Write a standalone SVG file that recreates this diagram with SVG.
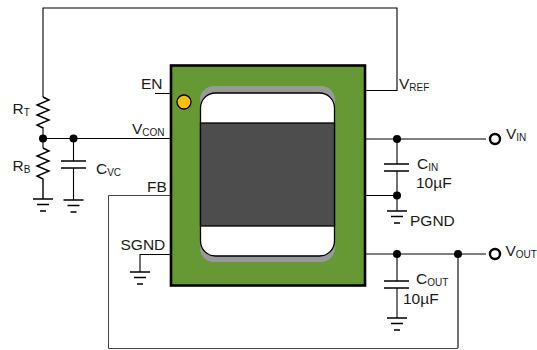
<svg xmlns="http://www.w3.org/2000/svg" width="537" height="350" viewBox="0 0 537 350">
<defs>
<style>
.w{fill:none;stroke:#000;stroke-width:1.100}
.f{fill:none;stroke:#444;stroke-width:1}
.t{stroke:#000;stroke-width:1.400;fill:none}
.l{font-family:"Liberation Sans",Arial,sans-serif;font-size:15.500px;fill:#1a1a1a}
.s{font-size:10px}
.d{fill:#000}
.o{fill:#fff;stroke:#000;stroke-width:2.400}
</style>
<g id="gnd"><path class="t" d="M-10 0H10M-6 5.500H6M-3 12H3"/></g>
</defs>
<rect width="537" height="350" fill="#fff"/>
<g id="connectors">
<path class="w" d="M43 97V8H397V90.500H365"/>
<path class="t" d="M43 97l6 3-12 5 12 5-12 5 12 5-12 5 6 3M43 148l6 3-12 5 12 5-12 5 12 5-12 5 6 3V199"/>
<path class="w" d="M43 127V148M43 138.500H170M73.500 138.500V161M73.500 168V200"/>
<path class="t" d="M61 161H86M61 168H86"/>
<path class="w" d="M155 93.500H170M170 254.500H140V272M458 254V348"/>
<path class="f" d="M170 195.500H108.500V348.500H458"/>
<path class="w" d="M365 139H486M365 195.500H397M397 139V164M397 171V211"/>
<path class="t" d="M384 164H409M384 171H409"/>
<path class="w" d="M365 254H486M397 254V281M397 288V318"/>
<path class="t" d="M384 281H409M384 288H409"/>
<circle class="d" cx="43" cy="138.500" r="4"/>
<circle class="d" cx="73.500" cy="138.500" r="4"/>
<circle class="d" cx="397" cy="139" r="4"/>
<circle class="d" cx="397" cy="195.500" r="4"/>
<circle class="d" cx="397" cy="254" r="4"/>
<circle class="d" cx="458" cy="254" r="4"/>
<use href="#gnd" x="43" y="199"/>
<use href="#gnd" x="73.500" y="200"/>
<use href="#gnd" x="140" y="272"/>
<use href="#gnd" x="397" y="211"/>
<use href="#gnd" x="397" y="318"/>
</g>
<g id="chip">
<rect x="171" y="65.500" width="194" height="220" fill="#669933" stroke="#000" stroke-width="2.600"/>
<rect x="200" y="86" width="135" height="176" rx="14" fill="#999"/>
<rect x="200.500" y="93" width="134" height="163" rx="15" fill="#fff" stroke="#000" stroke-width="1.300"/>
<rect x="200.500" y="123" width="134" height="103" fill="#4d4d4d" stroke="#000" stroke-width="1.300"/>
<circle cx="184" cy="102" r="7" fill="#ffc000" stroke="#000" stroke-width="1.300"/>
</g>
<g id="labels">
<text class="l" x="141" y="89">EN</text>
<text class="l" x="132" y="134">V<tspan class="s" dy="2">CON</tspan></text>
<text class="l" x="147" y="192">FB</text>
<text class="l" x="120.500" y="250">SGND</text>
<text class="l" x="12.500" y="114">R<tspan class="s" dy="2">T</tspan></text>
<text class="l" x="12.500" y="171">R<tspan class="s" dy="2">B</tspan></text>
<text class="l" x="96" y="174">C<tspan class="s" dy="2">VC</tspan></text>
<text class="l" x="399" y="89">V<tspan class="s" dy="2">REF</tspan></text>
<text class="l" x="506" y="139">V<tspan class="s" dy="2">IN</tspan></text>
<text class="l" x="417" y="169">C<tspan class="s" dy="2">IN</tspan></text>
<text class="l" x="416" y="188">10µF</text>
<text class="l" x="410" y="226">PGND</text>
<text class="l" x="505.500" y="256">V<tspan class="s" dy="2">OUT</tspan></text>
<text class="l" x="416" y="284">C<tspan class="s" dy="2">OUT</tspan></text>
<text class="l" x="403" y="304">10µF</text>
</g>
<g id="terminals">
<circle class="o" cx="495" cy="139" r="5"/>
<circle class="o" cx="495" cy="254" r="5"/>
</g>
</svg>
